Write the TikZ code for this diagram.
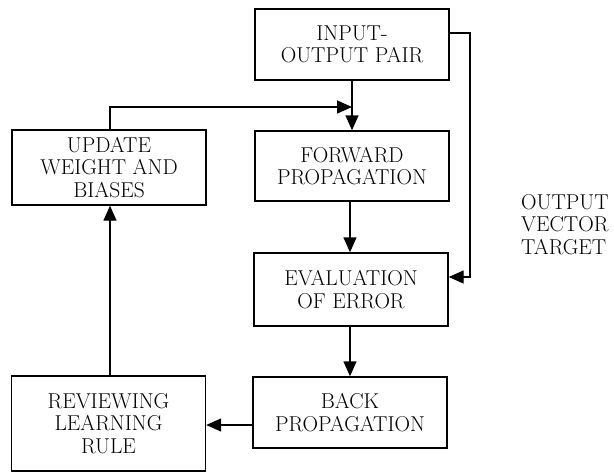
\documentclass[tikz,border=0pt]{standalone}
\usetikzlibrary{arrows.meta}
\begin{document}
\begin{tikzpicture}[x=1pt,y=-1pt,
  box/.style={draw,line width=1.4pt,minimum width=194pt,align=center,inner sep=0pt,font=\rmfamily\fontsize{21.5}{22.5}\selectfont},
  conn/.style={line width=1.4pt,-{Triangle[length=15pt,width=13pt]}}]
\useasboundingbox (0,0) rectangle (614,474);
\node[box,minimum height=71pt] (inp) at (352,44.5) {INPUT-\\OUTPUT PAIR};
\node[box,minimum height=70pt] (fwd) at (352,166) {FORWARD\\PROPAGATION};
\node[box,minimum height=73pt] (eval) at (351,289.5) {EVALUATION\\OF ERROR};
\node[box,minimum height=71pt] (back) at (350,412.5) {BACK\\PROPAGATION};
\node[box,minimum height=75pt] (upd) at (109,167.5) {UPDATE\\WEIGHT AND\\BIASES};
\node[box,minimum height=95pt] (rev) at (108.5,423.5) {REVIEWING\\LEARNING\\RULE};
\node[align=left,anchor=west,inner sep=0pt,font=\rmfamily\fontsize{21.5}{22.5}\selectfont] (out) at (521,224.5) {OUTPUT\\VECTOR\\TARGET};
\coordinate (j) at (352,107);
\draw[conn] (inp.south -| j) -- (fwd.north -| j);
\draw[conn] (upd.north -| 110,0) |- (j);
\draw[conn] (inp.east |- 0,33) -| (470,277) -- (eval.east |- 0,277);
\draw[conn] (fwd.south -| 350,0) -- (eval.north -| 350,0);
\draw[conn] (eval.south -| 350,0) -- (back.north -| 350,0);
\draw[conn] (back.west |- 0,425) -- (rev.east |- 0,425);
\draw[conn] (rev.north -| 110,0) -- (upd.south -| 110,0);
\end{tikzpicture}
\end{document}
